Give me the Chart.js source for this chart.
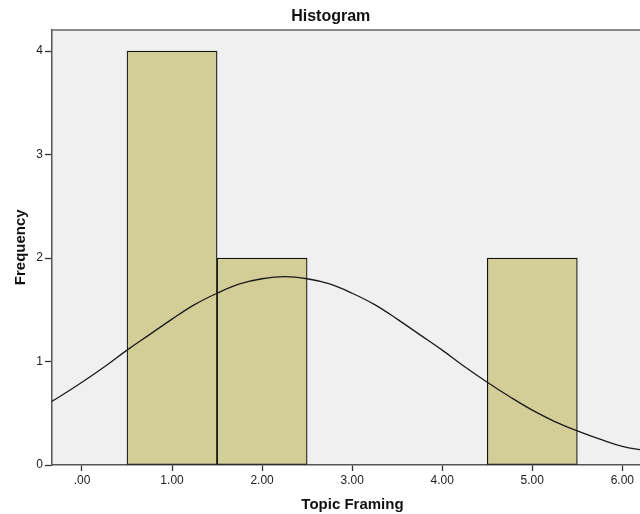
<!DOCTYPE html>
<html>
<head>
<meta charset="utf-8">
<script src="https://cdn.jsdelivr.net/npm/chart.js@4.4.0/dist/chart.umd.min.js"></script>
<style>
  html, body { margin: 0; padding: 0; background: #ffffff; }
  #wrap { width: 640px; height: 514px; position: relative; }
</style>
</head>
<body>
<div id="wrap"><canvas id="c"></canvas></div>
<script>
// Histogram bins (bin centres) and their frequencies
const binCenters = [1, 2, 5];
const frequencies = [4, 2, 2];
// Normal curve
const curveX = [-0.5, -0.25, 0, 0.25, 0.5, 0.75, 1, 1.25, 1.5, 1.75, 2, 2.25, 2.5, 2.75, 3, 3.25, 3.5, 3.75, 4, 4.25, 4.5, 4.75, 5, 5.25, 5.5, 5.75, 6, 6.25];
const curveY = [0.53, 0.66, 0.80, 0.95, 1.11, 1.26, 1.41, 1.55, 1.66, 1.75, 1.80, 1.82, 1.80, 1.75, 1.66, 1.55, 1.41, 1.26, 1.11, 0.95, 0.80, 0.66, 0.53, 0.42, 0.33, 0.25, 0.18, 0.14];
// Tick labels
const xTickLabels = {0: '.00', 1: '1.00', 2: '2.00', 3: '3.00', 4: '4.00', 5: '5.00', 6: '6.00'};
const xTickValues = [0, 1, 2, 3, 4, 5, 6];
const yTickValues = [0, 1, 2, 3, 4];
const chartTitle = 'Histogram';
const xTitle = 'Topic Framing';
const yTitle = 'Frequency';

const FONT = "'Liberation Sans', Arial, sans-serif";

const plotBg = {
  id: 'plotBg',
  beforeDraw(chart) {
    const {ctx, chartArea: a} = chart;
    ctx.save();
    ctx.fillStyle = '#f0f0f0';
    ctx.fillRect(a.left, a.top, a.right - a.left, a.bottom - a.top);
    ctx.restore();
  },
  afterDraw(chart) {
    const {ctx, chartArea: a} = chart;
    const w = a.right - a.left;
    ctx.save();
    ctx.fillStyle = '#111111';
    ctx.textAlign = 'center';
    ctx.textBaseline = 'alphabetic';
    ctx.font = "bold 16px " + FONT;
    ctx.fillText(chartTitle, a.left + w * 0.474, a.top - 9);
    ctx.font = "bold 15px " + FONT;
    ctx.fillText(xTitle, a.left + w * 0.511, chart.height - 5);
    ctx.restore();
  }
};

new Chart(document.getElementById('c'), {
  data: {
    datasets: [
      {
        type: 'line',
        data: curveX.map((x, i) => ({x: x, y: curveY[i]})),
        borderColor: '#1a1a1a',
        borderWidth: 1.3,
        pointRadius: 0,
        tension: 0.4,
        fill: false,
        order: 0,
        xAxisID: 'x',
        yAxisID: 'y'
      },
      {
        type: 'bar',
        data: binCenters.map((x, i) => ({x: x, y: frequencies[i]})),
        backgroundColor: '#d3ce98',
        borderColor: '#111111',
        borderWidth: 1.2,
        borderSkipped: false,
        barPercentage: 1,
        categoryPercentage: 1,
        order: 1,
        xAxisID: 'x',
        yAxisID: 'y'
      }
    ]
  },
  plugins: [plotBg],
  options: {
    responsive: true,
    maintainAspectRatio: false,
    animation: false,
    layout: { padding: { left: 0, right: 0, top: 0, bottom: 0 } },
    plugins: {
      legend: { display: false },
      tooltip: { enabled: false },
      title: { display: false }
    },
    scales: {
      x: {
        type: 'linear',
        position: 'bottom',
        offset: false,
        min: -0.333,
        max: 6.196,
        afterFit(scale) { scale.height = 49; },
        afterBuildTicks(scale) { scale.ticks = xTickValues.map(v => ({value: v})); },
        ticks: {
          autoSkip: false,
          maxRotation: 0,
          padding: 2,
          color: '#222222',
          font: { family: FONT, size: 12 },
          callback: (v) => xTickLabels[v] !== undefined ? xTickLabels[v] : ''
        },
        grid: {
          offset: false,
          drawOnChartArea: false,
          drawTicks: true,
          tickLength: 6,
          tickWidth: 1.3,
          tickColor: '#333333',
          color: '#333333'
        },
        border: { display: true, color: '#555555', width: 1.5 },
        title: { display: false }
      },
      xTop: {
        type: 'linear',
        position: 'top',
        offset: false,
        min: -0.333,
        max: 6.196,
        afterFit(scale) { scale.height = 29.5; },
        ticks: { display: false },
        grid: { display: false, drawTicks: false },
        border: { display: true, color: '#8a8a8a', width: 2 }
      },
      y: {
        type: 'linear',
        position: 'left',
        min: 0,
        max: 4.209,
        afterFit(scale) { scale.width = 52; },
        afterBuildTicks(scale) { scale.ticks = yTickValues.map(v => ({value: v})); },
        ticks: {
          padding: 2,
          color: '#222222',
          font: { family: FONT, size: 12 },
          callback: (v) => String(v)
        },
        grid: {
          drawOnChartArea: false,
          drawTicks: true,
          tickLength: 7,
          tickWidth: 1.3,
          tickColor: '#333333',
          color: '#333333'
        },
        border: { display: true, color: '#555555', width: 1.5 },
        title: {
          display: true,
          text: yTitle,
          color: '#111111',
          font: { family: FONT, size: 15, weight: 'bold' },
          padding: { top: 12, bottom: 4 }
        }
      }
    }
  }
});
</script>
</body>
</html>
